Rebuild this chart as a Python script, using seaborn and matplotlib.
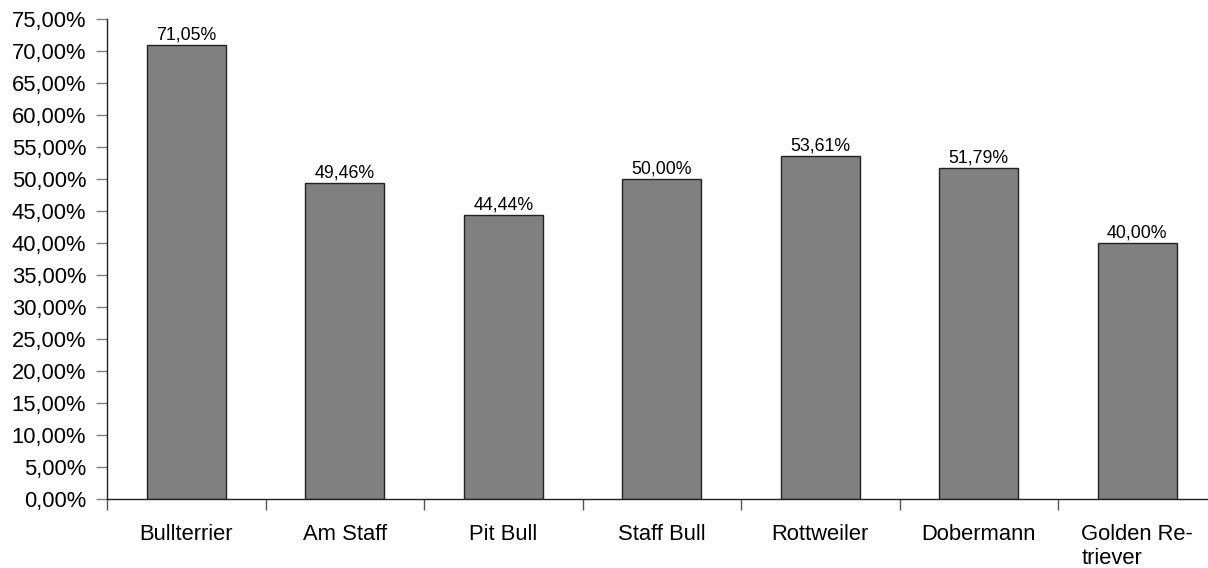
import matplotlib
matplotlib.use("Agg")
import matplotlib.pyplot as plt
import seaborn as sns
import numpy as np
import pandas as pd
from matplotlib.ticker import FuncFormatter, FixedLocator

breeds = ["Bullterrier", "Am Staff", "Pit Bull", "Staff Bull",
          "Rottweiler", "Dobermann", "Golden Re-\ntriever"]
values = [71.05, 49.46, 44.44, 50.00, 53.61, 51.79, 40.00]

df = pd.DataFrame({"breed": breeds, "value": values})

sns.set_style("white")
plt.rcParams["font.family"] = ["Liberation Sans", "DejaVu Sans"]
plt.rcParams["text.color"] = "black"
plt.rcParams["xtick.labelcolor"] = "black"
plt.rcParams["ytick.labelcolor"] = "black"

fig = plt.figure(figsize=(12.08, 5.68), dpi=100)
ax = fig.add_axes([107 / 1208, 1 - 498.7 / 568, 1109.5 / 1208, 479.4 / 568])

sns.barplot(data=df, x="breed", y="value", color="#808080", width=0.5,
            edgecolor="#222222", linewidth=1, saturation=1, ax=ax)

def de_pct(v, pos=None):
    return f"{v:.2f}".replace(".", ",") + "%"

# Werte über den Balken
for i, v in enumerate(values):
    ax.text(i, v + 0.2, de_pct(v), ha="center", va="bottom", fontsize=12.8,
            color="black")

ax.set_xlim(-0.5, len(breeds) - 0.5)
ax.set_ylim(0, 75)
ax.set_yticks(np.arange(0, 80, 5))
ax.yaxis.set_major_formatter(FuncFormatter(de_pct))
ax.set_xlabel("")
ax.set_ylabel("")

for s in ["top", "right"]:
    ax.spines[s].set_visible(False)
for s in ["left", "bottom"]:
    ax.spines[s].set_color("#222222")
    ax.spines[s].set_linewidth(1)

ax.tick_params(axis="y", which="major", left=True, length=8, width=1,
               color="#808080", labelsize=15.8, pad=7, labelcolor="black")
ax.tick_params(axis="x", which="major", length=0, labelsize=15.8, pad=18,
               labelcolor="black")
ax.xaxis.set_minor_locator(FixedLocator(np.arange(-0.5, len(breeds), 1)))
ax.tick_params(axis="x", which="minor", bottom=True, length=8, width=1,
               color="#555555")
for lbl in ax.get_xticklabels():
    lbl.set_multialignment("left")

fig.savefig("out.png", dpi=100)
